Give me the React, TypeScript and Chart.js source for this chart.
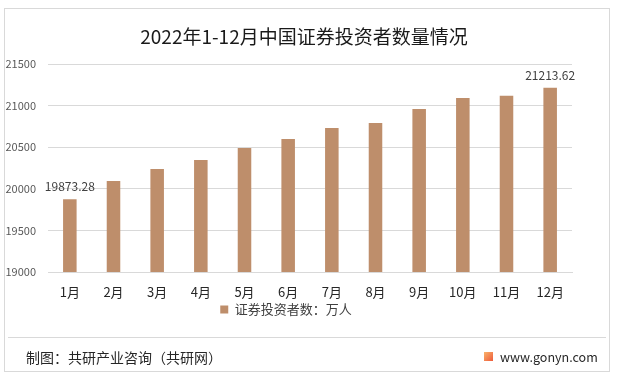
import React, { useEffect, useRef } from "react";
import { Chart, registerables } from "chart.js";

Chart.register(...registerables);

const months = ["1月", "2月", "3月", "4月", "5月", "6月", "7月", "8月", "9月", "10月", "11月", "12月"];
const investors = [19873.28, 20094, 20238, 20346, 20490, 20598, 20731, 20791, 20959, 21091, 21119, 21213.62];
const labelledIndexes = [0, 11];
const yMin = 19000;
const yMax = 21500;
const yStep = 500;
const seriesName = "证券投资者数：万人";
const titleText = "2022年1-12月中国证券投资者数量情况";
const sourceText = "制图：共研产业咨询（共研网）";
const siteText = "www.gonyn.com";

const FONT = "'Noto Sans CJK SC', 'Noto Sans', sans-serif";
const BAR = "#BE8E6B";

const valueLabels = {
  id: "valueLabels",
  afterDatasetsDraw(chart: any) {
    const ctx = chart.ctx;
    const meta = chart.getDatasetMeta(0);
    ctx.save();
    ctx.font = `12px ${FONT}`;
    ctx.fillStyle = "#404040";
    ctx.textAlign = "center";
    ctx.textBaseline = "alphabetic";
    labelledIndexes.forEach((i) => {
      const el = meta.data[i];
      const v = investors[i];
      ctx.fillText(v.toFixed(2), el.x, el.y - 8);
    });
    ctx.restore();
  },
};

export default function App() {
  const ref = useRef<HTMLCanvasElement | null>(null);
  useEffect(() => {
    document.body.style.margin = "0";
    const chart = new Chart(ref.current as HTMLCanvasElement, {
      type: "bar",
      data: {
        labels: months,
        datasets: [
          {
            label: seriesName,
            data: investors,
            backgroundColor: BAR,
            borderWidth: 0,
            barPercentage: 0.31,
            categoryPercentage: 1,
          },
        ],
      },
      options: {
        responsive: false,
        animation: false,
        layout: { padding: { left: 0, right: 45, top: 64, bottom: 52 } },
        plugins: {
          title: { display: false },
          tooltip: { enabled: false },
          legend: {
            position: "bottom",
            labels: {
              boxWidth: 8,
              boxHeight: 8,
              padding: 4,
              color: "#404040",
              font: { size: 13, family: FONT },
            },
          },
        },
        scales: {
          x: {
            grid: { display: false, drawTicks: false },
            border: { display: true, color: "#d9d9d9" },
            ticks: { color: "#262626", font: { size: 13, family: FONT }, padding: 12, maxRotation: 0 },
            afterFit: (s: any) => {
              s.height = 27;
            },
          },
          y: {
            min: yMin,
            max: yMax,
            grid: { color: "#d9d9d9", drawTicks: false },
            border: { display: false },
            ticks: {
              stepSize: yStep,
              color: "#595959",
              font: { size: 11, family: FONT },
              padding: 12,
              callback: (v: any) => String(v),
            },
            afterFit: (s: any) => {
              s.width = 48;
            },
          },
        },
      },
      plugins: [valueLabels],
    });
    return () => chart.destroy();
  }, []);

  const abs = (o: any) => ({ position: "absolute" as const, ...o });
  return (
    <div style={{ position: "absolute", left: 0, top: 0, width: 617, height: 378, background: "#fff", overflow: "hidden", fontFamily: FONT }}>
      <canvas ref={ref} width={617} height={378} style={abs({ left: 0, top: 0, width: 617, height: 378 })} />
      <div style={abs({ left: 4, top: 8, width: 604, height: 362, border: "1px solid #d9d9d9", pointerEvents: "none" })} />
      <div style={abs({ left: 0, top: 26, width: 608, textAlign: "center", fontSize: 19, lineHeight: "20px", color: "#1a1a1a" })}>{titleText}</div>
      <div style={abs({ left: 8, top: 337, width: 598, height: 1, background: "#d9d9d9" })} />
      <div style={abs({ left: 26, top: 349, fontSize: 14, lineHeight: "16px", color: "#262626", whiteSpace: "nowrap" })}>{sourceText}</div>
      <div style={abs({ left: 484, top: 352, width: 9, height: 9, background: "linear-gradient(135deg,#f9b36b,#ee5a3a)" })} />
      <div style={abs({ left: 500, top: 349, fontSize: 12.5, lineHeight: "16px", color: "#262626", whiteSpace: "nowrap" })}>{siteText}</div>
    </div>
  );
}
